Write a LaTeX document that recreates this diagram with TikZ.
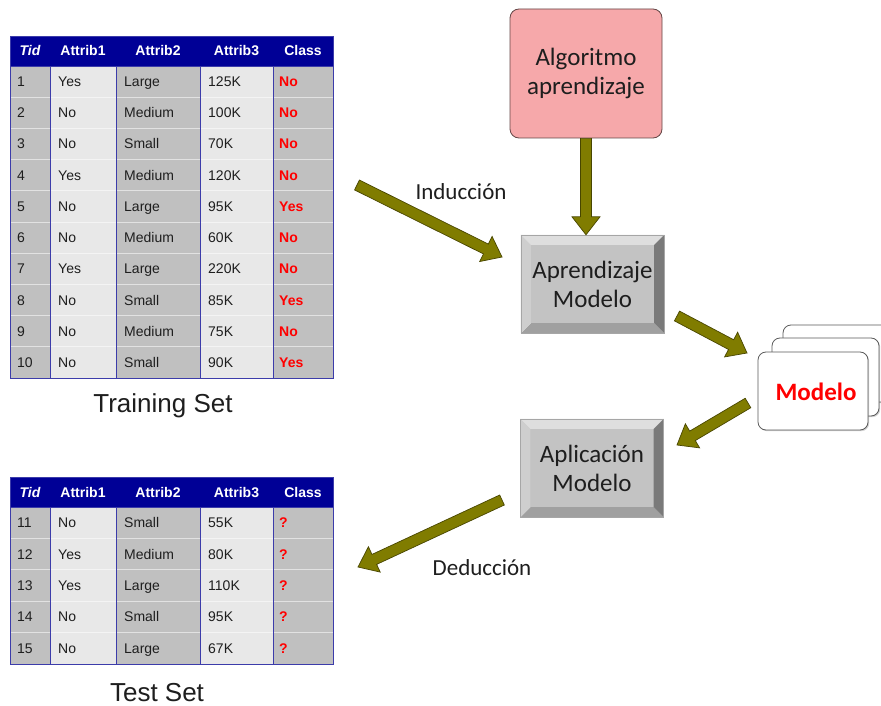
\documentclass[tikz,border=0pt]{standalone}
\usepackage{fontspec}
\setmainfont{Carlito}
\newfontfamily\tabfont{Liberation Sans}
\usetikzlibrary{calc,backgrounds,shadows}
\definecolor{navyhdr}{RGB}{0,0,150}
\definecolor{cellgray}{RGB}{192,192,192}
\definecolor{celllight}{RGB}{232,232,232}
\definecolor{gridblue}{RGB}{60,60,170}
\definecolor{olivefill}{RGB}{128,124,0}
\definecolor{olivedark}{RGB}{72,70,0}
\definecolor{pinkfill}{RGB}{246,168,170}
\definecolor{pinkdraw}{RGB}{100,70,70}
\definecolor{txt}{RGB}{30,30,30}
\definecolor{bevtop}{RGB}{222,222,222}
\definecolor{bevleft}{RGB}{206,206,206}
\definecolor{bevright}{RGB}{122,122,122}
\definecolor{bevbottom}{RGB}{160,160,160}
\definecolor{bevface}{RGB}{195,195,195}
\definecolor{carddraw}{RGB}{90,90,90}

\tikzset{
  hdr/.style={font=\tabfont\bfseries\fontsize{14}{16}\selectfont, text=white, inner sep=0pt, anchor=base},
  cell/.style={font=\tabfont\fontsize{14}{16}\selectfont, text=txt, inner sep=0pt, anchor=base west},
  clscell/.style={font=\tabfont\bfseries\fontsize{14}{16}\selectfont, text=red, inner sep=0pt, anchor=base west},
  rowsep/.style={white, opacity=0.55, line width=1pt},
  colsep/.style={gridblue, line width=1pt},
  setlabel/.style={font=\tabfont\fontsize{26}{30}\selectfont, text=txt, inner sep=0pt, anchor=base},
  boxtext/.style={font=\fontsize{25}{29}\selectfont, text=txt, align=center, inner sep=0pt},
  steplabel/.style={font=\fontsize{23}{27}\selectfont, text=txt, inner sep=0pt},
  algbox/.style={boxtext, fill=pinkfill, draw=pinkdraw, line width=0.8pt, rounded corners=9pt,
     minimum width=152pt, minimum height=129pt},
  bevelnode/.style={boxtext, minimum width=143pt, minimum height=98pt},
  card/.style={fill=white, draw=carddraw, line width=0.8pt, rounded corners=8pt,
     drop shadow={shadow xshift=1.2pt, shadow yshift=-1.2pt, opacity=0.35}},
  modelotext/.style={font=\bfseries\fontsize{25}{29}\selectfont, text=red, inner sep=0pt},
  fat/.style={fill=olivefill, draw=olivedark, line width=0.7pt, line join=miter,
    to path={
      ($(\tikztostart)!5.5pt!90:(\tikztotarget)$)
      -- ($($(\tikztotarget)!18pt!(\tikztostart)$)!5.5pt!90:(\tikztotarget)$)
      -- ($($(\tikztotarget)!18pt!(\tikztostart)$)!14pt!90:(\tikztotarget)$)
      -- (\tikztotarget)
      -- ($($(\tikztotarget)!18pt!(\tikztostart)$)!14pt!-90:(\tikztotarget)$)
      -- ($($(\tikztotarget)!18pt!(\tikztostart)$)!5.5pt!-90:(\tikztotarget)$)
      -- ($(\tikztostart)!5.5pt!-90:(\tikztotarget)$)
      -- cycle}}
}

% #1 prefix, #2 header top, #3 row height, #4 number of rows, #5 data
\newcommand{\datatable}[5]{%
  \pgfmathsetmacro\hb{#2+30}%
  \pgfmathsetmacro\tb{#2+30+#3*#4}%
  \fill[cellgray]  (10,\hb) rectangle (50,\tb);
  \fill[celllight] (50,\hb) rectangle (116,\tb);
  \fill[cellgray]  (116,\hb) rectangle (200,\tb);
  \fill[celllight] (200,\hb) rectangle (273,\tb);
  \fill[cellgray]  (273,\hb) rectangle (333,\tb);
  \fill[navyhdr] (10,#2) rectangle (333,\hb);
  \node[hdr, font=\tabfont\bfseries\itshape\fontsize{14}{16}\selectfont] (#1h1) at (30,{#2+20}) {Tid};
  \node[hdr] (#1h2) at (83,{#2+20}) {Attrib1};
  \node[hdr] (#1h3) at (158,{#2+20}) {Attrib2};
  \node[hdr] (#1h4) at (236.5,{#2+20}) {Attrib3};
  \node[hdr] (#1h5) at (303,{#2+20}) {Class};
  \foreach \tt/\aa/\bb/\cc/\dd [count=\rr] in {#5} {
    \pgfmathsetmacro\yb{\hb+#3*(\rr-0.5)+5}
    \node[cell] (#1-\rr-1) at (17,\yb) {\tt};
    \node[cell] (#1-\rr-2) at (58,\yb) {\aa};
    \node[cell] (#1-\rr-3) at (124,\yb) {\bb};
    \node[cell] (#1-\rr-4) at (208,\yb) {\cc};
    \node[clscell] (#1-\rr-5) at (279,\yb) {\dd};
    \ifnum\rr<#4 \draw[rowsep] (10,{\hb+#3*\rr}) -- (333,{\hb+#3*\rr}); \fi
  }
  \foreach \xx in {50,116,200,273} {
    \draw[colsep] (\xx,\hb) -- (\xx,\tb);
  }
  \draw[gridblue, line width=0.6pt] (10,\hb) -- (333,\hb);
  \draw[gridblue, line width=0.9pt] (10,#2) rectangle (333,\tb);
}

% bevel decoration drawn behind a node
\newcommand{\bevel}[1]{%
  \begin{pgfonlayer}{background}
    \fill[bevface] ($(#1.north west)+(10,10)$) rectangle ($(#1.south east)+(-10,-10)$);
    \fill[bevtop] (#1.north west) -- (#1.north east) -- ($(#1.north east)+(-10,10)$) -- ($(#1.north west)+(10,10)$) -- cycle;
    \fill[bevbottom] (#1.south west) -- (#1.south east) -- ($(#1.south east)+(-10,-10)$) -- ($(#1.south west)+(10,-10)$) -- cycle;
    \fill[bevleft] (#1.north west) -- (#1.south west) -- ($(#1.south west)+(10,-10)$) -- ($(#1.north west)+(10,10)$) -- cycle;
    \fill[bevright] (#1.north east) -- (#1.south east) -- ($(#1.south east)+(-10,-10)$) -- ($(#1.north east)+(-10,10)$) -- cycle;
    \draw[gray!70, line width=0.5pt] (#1.north west) rectangle (#1.south east);
  \end{pgfonlayer}%
}

\begin{document}
\begin{tikzpicture}[x=1pt, y=-1pt]
  \begin{pgfonlayer}{background}
    \fill[white] (0,0) rectangle (881,706);
  \end{pgfonlayer}
  \useasboundingbox (0,0) rectangle (881,706);

  % tables
  \datatable{tr}{36}{31.2}{10}{1/Yes/Large/125K/No, 2/No/Medium/100K/No, 3/No/Small/70K/No,
    4/Yes/Medium/120K/No, 5/No/Large/95K/Yes, 6/No/Medium/60K/No, 7/Yes/Large/220K/No,
    8/No/Small/85K/Yes, 9/No/Medium/75K/No, 10/No/Small/90K/Yes}
  \node[setlabel] (trainlbl) at (163,412) {Training Set};

  \datatable{te}{477}{31.4}{5}{11/No/Small/55K/?, 12/Yes/Medium/80K/?, 13/Yes/Large/110K/?,
    14/No/Small/95K/?, 15/No/Large/67K/?}
  \node[setlabel] (testlbl) at (157,701) {Test Set};

  % boxes
  \node[algbox] (alg) at (586,73.5) {Algoritmo\\aprendizaje};
  \node[bevelnode] (apr) at (592.5,284) {Aprendizaje\\Modelo};
  \bevel{apr}
  \node[bevelnode] (apl) at (592,468) {Aplicación\\Modelo};
  \bevel{apl}

  % model cards
  \path[card] (783,325) rectangle (896,402);
  \path[card] (772,338) rectangle (879,416);
  \node[card, minimum width=110pt, minimum height=78pt] (mcard) at (813,391) {};
  \node[modelotext] (modelo) at (816,392) {Modelo};

  % arrow end points
  \coordinate (indA) at (357,185);
  \coordinate (indB) at (502,257);
  \coordinate (algtip) at (alg.south |- apr.north);
  \coordinate (m1A) at (677,316);
  \coordinate (m1B) at (747,353);
  \coordinate (m2A) at (748,403);
  \coordinate (m2B) at (677,445);
  \coordinate (dedA) at (502,500);
  \coordinate (dedB) at (358,567);

  % arrows
  \draw[fat] (indA) to (indB);
  \draw[fat] (alg.south) to (algtip);
  \draw[fat] (m1A) to (m1B);
  \draw[fat] (m2A) to (m2B);
  \draw[fat] (dedA) to (dedB);

  % labels
  \node[steplabel] (ind) at (461,192) {Inducción};
  \node[steplabel] (ded) at (482,568) {Deducción};
\end{tikzpicture}
\end{document}
